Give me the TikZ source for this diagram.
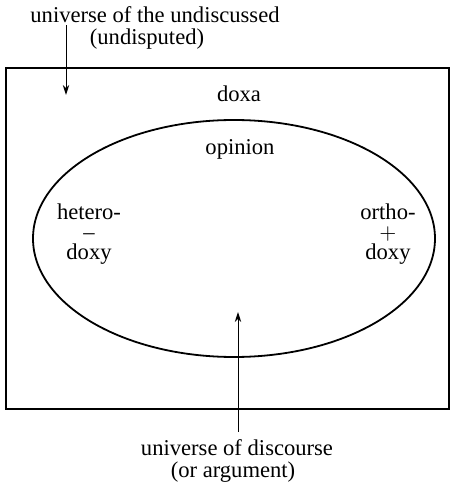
\documentclass[tikz,border=0pt]{standalone}
\usepackage{fontspec}
\setmainfont{Liberation Serif}
\usepackage{tikz}
\usetikzlibrary{arrows.meta,positioning}

\begin{document}
\begin{tikzpicture}[x=0.5pt, y=0.5pt,
    lbl/.style={font=\fontsize{11.3}{13}\selectfont, inner sep=1pt},
    pole/.style={lbl, align=center, font=\fontsize{11.3}{10.2}\selectfont},
    ptr/.style={-{Stealth[length=5pt, width=3.2pt]}, line width=0.5pt}]
  \useasboundingbox (0,0) rectangle (450,483);
  % field of doxa and the ellipse of opinion
  \draw[line width=0.6pt] (6,74) rectangle (449,415);
  \draw[line width=0.9pt] (234,244.5) ellipse [x radius=100.5pt, y radius=59.25pt];
  \node[lbl] (doxa) at (239,389) {doxa};
  \node[lbl] (opinion) at (240,334) {opinion};
  % left and right poles
  \node[pole] (hetero) at (89,249) {hetero-\\--\\doxy};
  \node[pole] (ortho) at (388,249) {ortho-\\$+$\\doxy};
  % outside labels
  \node[lbl] (undisc) at (155,468) {universe of the undiscussed};
  \node[lbl] (undisp) at (147,444) {(undisputed)};
  \node[lbl] (disc) at (237,35) {universe of discourse};
  \node[lbl] (arg) at (233,11) {(or argument)};
  \coordinate (topin) at (66,388);
  \coordinate (botin) at (238,171);
  \draw[ptr] (undisc.south -| topin) -- (topin);
  \draw[ptr] ([yshift=3pt]disc.north -| botin) -- (botin);
\end{tikzpicture}
\end{document}
